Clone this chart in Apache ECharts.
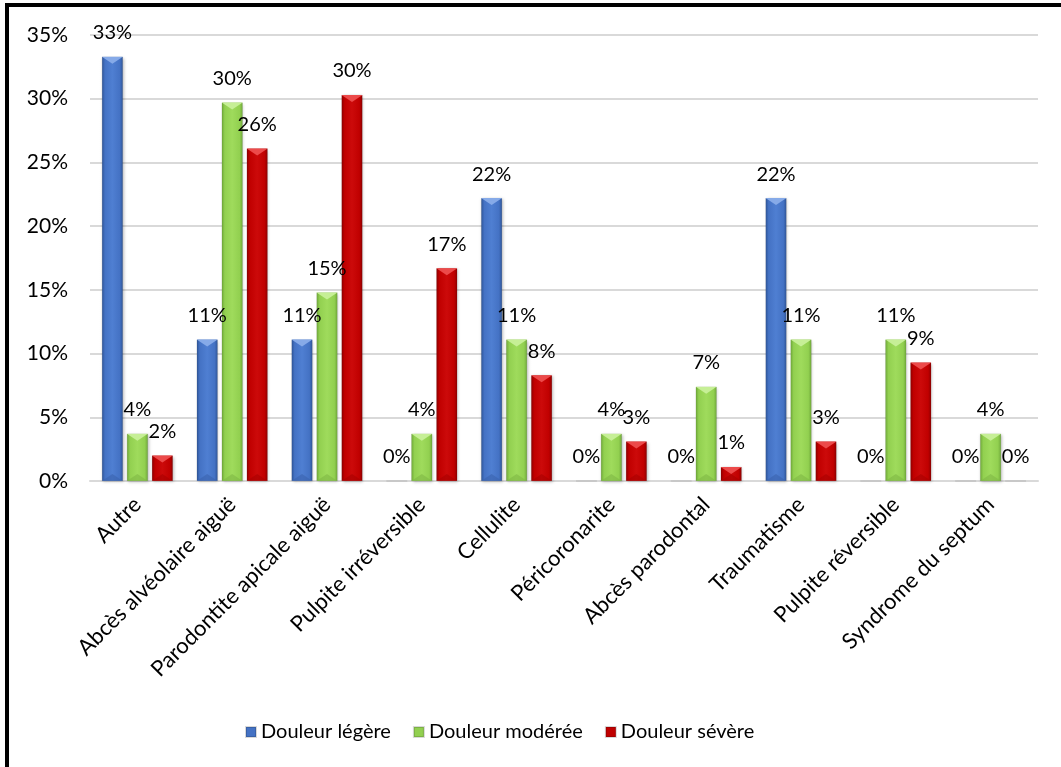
<!DOCTYPE html>
<html>
<head>
<meta charset="utf-8">
<script src="https://cdn.jsdelivr.net/npm/echarts@6/dist/echarts.min.js"></script>
<style>
html,body{margin:0;padding:0;background:#fff;}
#c{width:1061px;height:767px;}
</style>
</head>
<body>
<div id="c"></div>
<script>
const categories = ["Autre","Abcès alvéolaire aiguë","Parodontite apicale aiguë","Pulpite irréversible","Cellulite","Péricoronarite","Abcès parodontal","Traumatisme","Pulpite réversible","Syndrome du septum"];
const seriesNames = ["Douleur légère","Douleur modérée","Douleur sévère"];
const legere  = [33.3, 11.1, 11.1, 0, 22.2, 0, 0, 22.2, 0, 0];
const moderee = [3.7, 29.7, 14.8, 3.7, 11.1, 3.7, 7.4, 11.1, 11.1, 3.7];
const severe  = [2.0, 26.1, 30.3, 16.7, 8.3, 3.1, 1.1, 3.1, 9.3, 0];
const yTicks = [0,5,10,15,20,25,30,35];

const FONT = "Lato, 'Open Sans', sans-serif";
function grad(dark, mid, light){
  return new echarts.graphic.LinearGradient(0,0,1,0,[
    {offset:0,color:dark},{offset:0.15,color:mid},{offset:0.5,color:light},{offset:0.85,color:mid},{offset:1,color:dark}
  ]);
}
const colors = [
  {main:'#4472C4', fill:grad('#2f5597','#4472C4','#4f7fd2'), top:'#86aae8', bot:'#3a62ad'},
  {main:'#92D050', fill:grad('#6fa83a','#92D050','#9fdb5c'), top:'#c6ef96', bot:'#7fb845'},
  {main:'#C00000', fill:grad('#8c0000','#C00000','#cc0a0a'), top:'#ec4a4a', bot:'#a80000'}
];
const data = [legere, moderee, severe];
const offsets = [-25, 0, 25];

const barSeries = data.map((d,i)=>({
  name: seriesNames[i], type:'bar', data:d,
  barWidth:21, barGap:'19%',
  itemStyle:{color:colors[i].fill, borderColor:'rgba(0,0,0,0.15)', borderWidth:0.5,
    shadowColor:'rgba(0,0,0,0.25)', shadowBlur:3, shadowOffsetX:1, shadowOffsetY:1},
  label:{show:true, position:'top', distance:14, fontSize:20, color:'#000', fontFamily:FONT,
    formatter:p=>Math.round(p.value)+'%'}
}));
const bevelTop = data.map((d,i)=>({
  name:'bevelTop'+i, type:'pictorialBar', z:3, silent:true,
  data:d.map(v=>v>0?v:null),
  symbol:'path://M0,0 L10,0 L5,3 Z', symbolSize:[21,7], symbolPosition:'end',
  symbolOffset:[offsets[i],0], barGap:'-100%',
  itemStyle:{color:colors[i].top}, label:{show:false}
}));
const bevelBot = data.map((d,i)=>({
  name:'bevelBot'+i, type:'pictorialBar', z:3, silent:true,
  data:d.map(v=>v>0?v:null),
  symbol:'path://M0,3 L10,3 L5,0 Z', symbolSize:[21,7], symbolPosition:'start',
  symbolOffset:[offsets[i],0], barGap:'-100%',
  itemStyle:{color:colors[i].bot, opacity:0.6}, label:{show:false}
}));

const chart = echarts.init(document.getElementById('c'));
chart.setOption({
  backgroundColor:'#fff',
  animation:false,
  textStyle:{fontFamily:FONT},
  grid:{left:90, right:23, top:35, bottom:286, containLabel:false},
  legend:{
    top:717, left:240,
    itemWidth:10, itemHeight:10, itemGap:22, icon:'rect',
    textStyle:{fontFamily:FONT, fontSize:20, color:'#000'},
    data: seriesNames.map((n,i)=>({name:n, itemStyle:{color:colors[i].main}}))
  },
  xAxis:{
    type:'category', data:categories,
    axisLine:{lineStyle:{color:'#d9d9d9', width:2}},
    axisTick:{show:false},
    axisLabel:{rotate:45, fontSize:22, color:'#000', fontFamily:FONT, margin:20, interval:0}
  },
  yAxis:{
    type:'value', min:0, max:35, interval:5,
    axisLine:{show:false}, axisTick:{show:false},
    splitLine:{lineStyle:{color:'#d9d9d9', width:2}},
    axisLabel:{fontSize:21, color:'#000', fontFamily:FONT, margin:22, formatter:v=>v+'%'}
  },
  series: barSeries.concat(bevelTop, bevelBot),
  graphic:[
    {type:'rect', shape:{x:7, y:5, width:1200, height:900}, style:{fill:'none', stroke:'#000', lineWidth:4}, z:100}
  ]
});
</script>
</body>
</html>
